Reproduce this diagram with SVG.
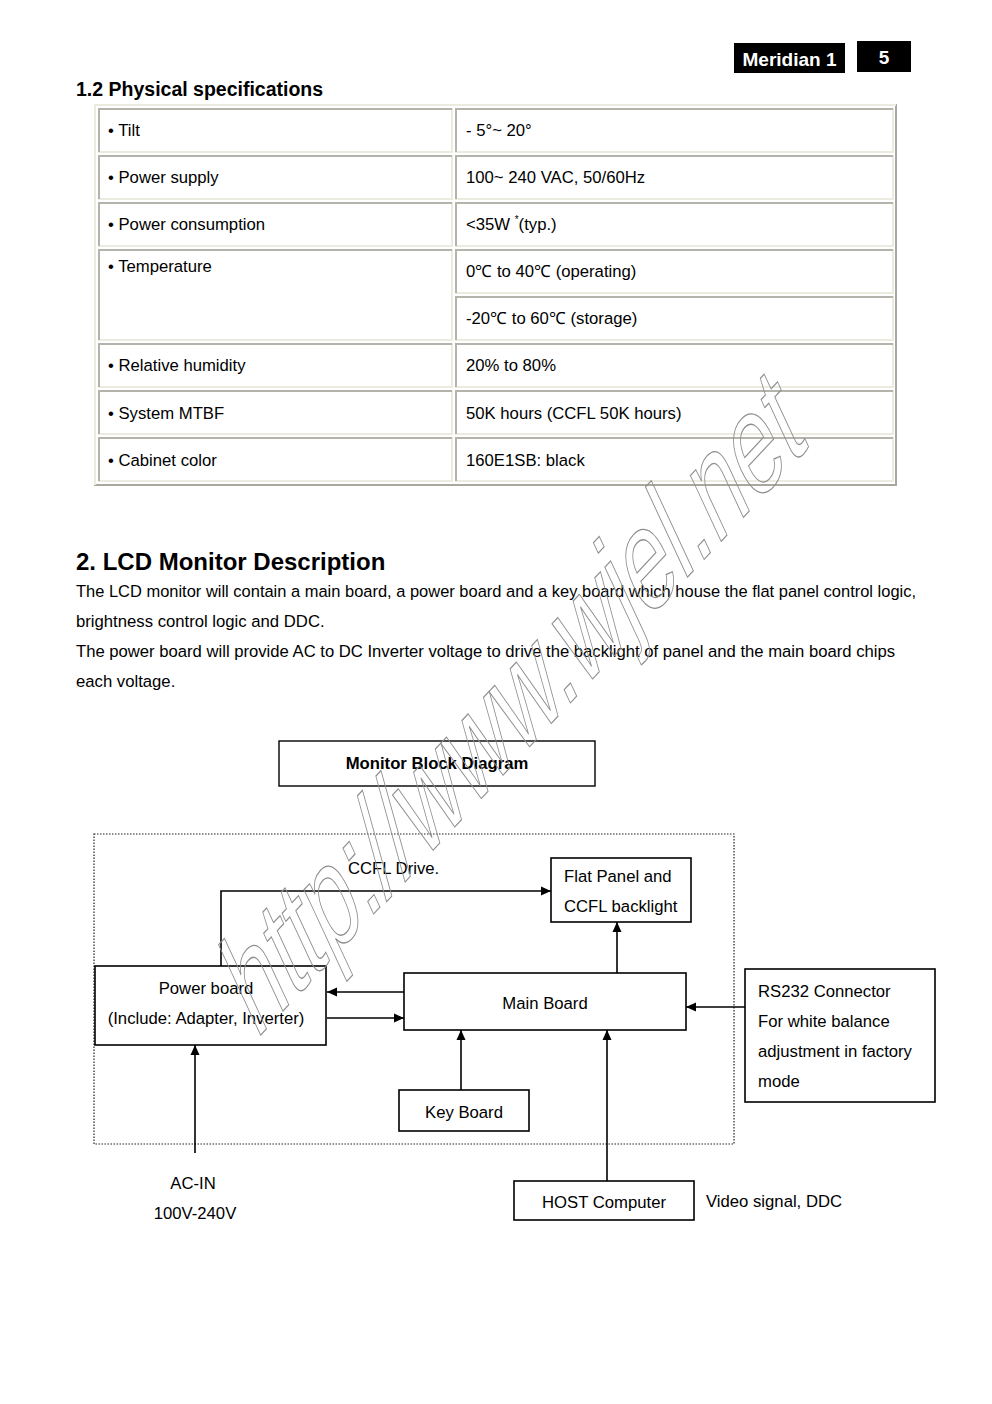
<svg xmlns="http://www.w3.org/2000/svg" width="992" height="1404" viewBox="0 0 992 1404">
<style>
text{font-family:"Liberation Sans",Arial,sans-serif;fill:#000}
.t{font-size:16.7px}
.b{font-weight:bold}
.cell{fill:#fff;stroke:#ecebdf;stroke-width:2}
.cd{fill:none;stroke:#b4b4ac;stroke-width:2}
.box{fill:#fff;stroke:#000;stroke-width:1.6}
.ln{fill:none;stroke:#000;stroke-width:1.6}
.wm{font-family:"Liberation Sans",Arial,sans-serif;font-size:98px;fill:none;stroke:#8e8e8e;stroke-width:0.9}
</style>
<defs>
<marker id="ah" viewBox="0 0 10 10" refX="10" refY="5" markerWidth="10" markerHeight="10" markerUnits="userSpaceOnUse" orient="auto">
<path d="M0,0.5 L10,5 L0,9.5 Z" fill="#000"/>
</marker>
</defs>
<rect width="992" height="1404" fill="#fff"/>

<g id="header">
<rect x="734" y="43" width="111" height="30" fill="#000"/>
<text x="789.5" y="66" text-anchor="middle" class="b" style="fill:#fff;font-size:19px">Meridian 1</text>
<rect x="857" y="41" width="54" height="31" fill="#000"/>
<text x="884" y="64" text-anchor="middle" class="b" style="fill:#fff;font-size:19px">5</text>
</g>

<text x="76" y="96" class="b" style="font-size:19.5px">1.2 Physical specifications</text>

<g id="table">
<rect x="95" y="105" width="801" height="380" fill="#fff" stroke="#a8a8a0" stroke-width="2"/>
<path d="M95,485 V105 H896" fill="none" stroke="#ecebdf" stroke-width="2"/>
<g id="cells">
<rect class="cell" x="99" y="109" width="353" height="43"/><path class="cd" d="M99,152 V109 H452"/>
<rect class="cell" x="456" y="109" width="437" height="43"/><path class="cd" d="M456,152 V109 H893"/>
<rect class="cell" x="99" y="156" width="353" height="43"/><path class="cd" d="M99,199 V156 H452"/>
<rect class="cell" x="456" y="156" width="437" height="43"/><path class="cd" d="M456,199 V156 H893"/>
<rect class="cell" x="99" y="203" width="353" height="43"/><path class="cd" d="M99,246 V203 H452"/>
<rect class="cell" x="456" y="203" width="437" height="43"/><path class="cd" d="M456,246 V203 H893"/>
<rect class="cell" x="99" y="250" width="353" height="90"/><path class="cd" d="M99,340 V250 H452"/>
<rect class="cell" x="456" y="250" width="437" height="43"/><path class="cd" d="M456,293 V250 H893"/>
<rect class="cell" x="456" y="297" width="437" height="43"/><path class="cd" d="M456,340 V297 H893"/>
<rect class="cell" x="99" y="344" width="353" height="43"/><path class="cd" d="M99,387 V344 H452"/>
<rect class="cell" x="456" y="344" width="437" height="43"/><path class="cd" d="M456,387 V344 H893"/>
<rect class="cell" x="99" y="391" width="353" height="43"/><path class="cd" d="M99,434 V391 H452"/>
<rect class="cell" x="456" y="391" width="437" height="43"/><path class="cd" d="M456,434 V391 H893"/>
<rect class="cell" x="99" y="438" width="353" height="43"/><path class="cd" d="M99,481 V438 H452"/>
<rect class="cell" x="456" y="438" width="437" height="43"/><path class="cd" d="M456,481 V438 H893"/>
</g>
<g id="cell-text" class="t">
<text x="108" y="136" class="t">• Tilt</text>
<text x="466" y="136" class="t">- 5°~ 20°</text>
<text x="108" y="183" class="t">• Power supply</text>
<text x="466" y="183" class="t">100~ 240 VAC, 50/60Hz</text>
<text x="108" y="230" class="t">• Power consumption</text>
<text x="466" y="230" class="t">&lt;35W <tspan dy="-7" style="font-size:10px">*</tspan><tspan dy="7">(typ.)</tspan></text>
<text x="108" y="272" class="t">• Temperature</text>
<text x="466" y="277" class="t">0℃ to 40℃ (operating)</text>
<text x="466" y="324" class="t">-20℃ to 60℃ (storage)</text>
<text x="108" y="371" class="t">• Relative humidity</text>
<text x="466" y="371" class="t">20% to 80%</text>
<text x="108" y="419" class="t">• System MTBF</text>
<text x="466" y="419" class="t">50K hours (CCFL 50K hours)</text>
<text x="108" y="466" class="t">• Cabinet color</text>
<text x="466" y="466" class="t">160E1SB: black</text>
</g>
</g>

<g id="description">
<text x="76" y="570" class="b" style="font-size:24px">2. LCD Monitor Description</text>
<text x="76" y="597" class="t" textLength="840" lengthAdjust="spacingAndGlyphs">The LCD monitor will contain a main board, a power board and a key board which house the flat panel control logic,</text>
<text x="76" y="627" class="t">brightness control logic and DDC.</text>
<text x="76" y="657" class="t" textLength="819" lengthAdjust="spacingAndGlyphs">The power board will provide AC to DC Inverter voltage to drive the backlight of panel and the main board chips</text>
<text x="76" y="687" class="t">each voltage.</text>
</g>

<g id="title">
<rect x="279" y="741" width="316" height="45" class="box" style="stroke-width:1.4"/>
<text x="437" y="769" text-anchor="middle" class="t b">Monitor Block Diagram</text>
</g>

<rect id="boundary" x="94" y="834" width="640" height="310" fill="none" stroke="#222" stroke-width="1.2" stroke-dasharray="1.5,1.5"/>

<g id="connectors">
<path class="ln" d="M221,966 V891 H551" marker-end="url(#ah)"/>
<path class="ln" d="M404,992 H327" marker-end="url(#ah)"/>
<path class="ln" d="M327,1018 H404" marker-end="url(#ah)"/>
<path class="ln" d="M617,973 V922" marker-end="url(#ah)"/>
<path class="ln" d="M461,1090 V1030" marker-end="url(#ah)"/>
<path class="ln" d="M607,1181 V1030" marker-end="url(#ah)"/>
<path class="ln" d="M745,1007 H686" marker-end="url(#ah)"/>
<path class="ln" d="M195,1153 V1045" marker-end="url(#ah)"/>
<text x="348" y="874" class="t">CCFL Drive.</text>
</g>

<g id="flat-panel">
<rect x="551" y="858" width="140" height="64" class="box"/>
<text x="564" y="882" class="t">Flat Panel and</text>
<text x="564" y="912" class="t">CCFL backlight</text>
</g>

<g id="power-board">
<rect x="95" y="966" width="231" height="79" class="box"/>
<text x="206" y="994" text-anchor="middle" class="t">Power board</text>
<text x="206" y="1024" text-anchor="middle" class="t">(Include: Adapter, Inverter)</text>
</g>

<g id="main-board">
<rect x="404" y="973" width="282" height="57" class="box"/>
<text x="545" y="1009" text-anchor="middle" class="t">Main Board</text>
</g>

<g id="key-board">
<rect x="399" y="1090" width="130" height="41" class="box"/>
<text x="464" y="1118" text-anchor="middle" class="t">Key Board</text>
</g>

<g id="rs232">
<rect x="745" y="969" width="190" height="133" class="box"/>
<text x="758" y="997" class="t">RS232 Connector</text>
<text x="758" y="1027" class="t">For white balance</text>
<text x="758" y="1057" class="t">adjustment in factory</text>
<text x="758" y="1087" class="t">mode</text>
</g>

<g id="ac-in">
<text x="193" y="1189" text-anchor="middle" class="t">AC-IN</text>
<text x="195" y="1219" text-anchor="middle" class="t">100V-240V</text>
</g>

<g id="host">
<rect x="514" y="1181" width="180" height="39" class="box"/>
<text x="604" y="1208" text-anchor="middle" class="t">HOST Computer</text>
<text x="706" y="1207" class="t">Video signal, DDC</text>
</g>

<text class="wm" transform="translate(256,1040) rotate(-47) skewX(-22) scale(1,1.3)">http://www.wjel.net</text>
</svg>
